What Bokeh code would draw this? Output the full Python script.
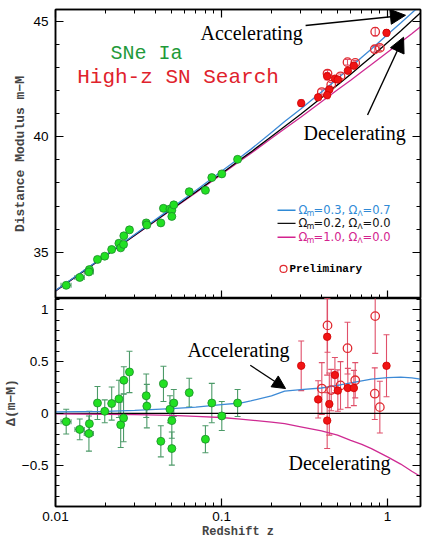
import numpy as np
from bokeh.plotting import figure
from bokeh.layouts import column
from bokeh.models import (ColumnDataSource, Whisker, TeeHead, Arrow, NormalHead, Label,
                          FixedTicker, LogAxis, LinearAxis, Range1d)
from bokeh.embed import file_html
from bokeh.resources import INLINE

# ---------------- data ----------------
# model curves
curve_z = [0.01, 0.02, 0.03, 0.05, 0.07, 0.1, 0.13, 0.15, 0.2, 0.24, 0.3, 0.4, 0.5, 0.6,
           0.7, 0.8, 1.0, 1.2, 1.4, 1.58]
black_mu = [33.33, 34.85, 35.74, 36.86, 37.61, 38.41, 39.01, 39.33, 40.01, 40.44, 40.97,
            41.68, 42.24, 42.70, 43.11, 43.46, 44.07, 44.57, 45.01, 45.36]
blue_mu = [33.35, 34.87, 35.77, 36.91, 37.67, 38.50, 39.11, 39.45, 40.18, 40.66, 41.20,
           41.93, 42.51, 43.00, 43.43, 43.79, 44.42, 44.92, 45.35, 45.69]
magenta_mu = [33.33, 34.84, 35.73, 36.84, 37.58, 38.37, 38.96, 39.27, 39.93, 40.34, 40.84,
              41.51, 42.03, 42.44, 42.81, 43.12, 43.65, 44.08, 44.45, 44.75]
blue_dmu = [0.015, 0.02, 0.028, 0.045, 0.06, 0.085, 0.10, 0.12, 0.17, 0.215, 0.23, 0.245,
            0.27, 0.295, 0.315, 0.33, 0.346, 0.35, 0.343, 0.33]
magenta_dmu = [-0.005, -0.01, -0.013, -0.02, -0.03, -0.04, -0.055, -0.065, -0.085, -0.10,
               -0.13, -0.17, -0.21, -0.26, -0.30, -0.34, -0.42, -0.49, -0.56, -0.61]
black_dmu = [0.0] * len(curve_z)

# low-z SNe Ia (green)
green_z = [0.0116, 0.0140, 0.0160, 0.0159, 0.0179, 0.0198, 0.0218, 0.0241, 0.0247, 0.0257,
           0.0258, 0.0279, 0.0352, 0.0355, 0.0431, 0.0447, 0.0489, 0.0502, 0.0502, 0.0516,
           0.0639, 0.0800, 0.0874, 0.1004, 0.125]
green_mu = [33.57, 33.91, 34.25, 34.15, 34.69, 34.83, 35.12, 35.39, 35.19, 35.34, 35.71,
            35.97, 36.27, 36.18, 36.27, 36.90, 36.87, 36.82, 36.55, 37.05, 37.62, 37.68,
            38.23, 38.39, 39.02]
green_dmu = [-0.08, -0.155, -0.10, -0.195, 0.10, 0.02, 0.095, 0.14, -0.11, -0.045, 0.32,
             0.40, 0.17, 0.07, -0.27, 0.285, 0.04, -0.07, -0.34, 0.10, 0.20, -0.25, 0.10,
             -0.025, 0.10]
green_err = [0.12, 0.10, 0.12, 0.17, 0.16, 0.11, 0.16, 0.18, 0.22, 0.23, 0.13, 0.20, 0.21,
             0.21, 0.15, 0.17, 0.13, 0.17, 0.16, 0.13, 0.14, 0.13, 0.19, 0.14, 0.13]
green_err_top = [0.10, 0.08, 0.08, 0.10, 0.08, 0.06, 0.06, 0.08, 0.10, 0.10, 0.10, 0.12, 0.12,
                 0.10, 0.08, 0.10, 0.08, 0.10, 0.10, 0.08, 0.08, 0.08, 0.10, 0.08, 0.08]
green_zerr = [0.0008, 0.0009, 0.0, 0.0010, 0.0, 0.0, 0.0, 0.0, 0.0, 0.0, 0.0, 0.0, 0.0, 0.0,
              0.0, 0.0, 0.0, 0.0, 0.0, 0.0, 0.0, 0.0, 0.0, 0.0, 0.0]

# High-z SN Search, filled (red)
rf_z = [0.302, 0.382, 0.433, 0.446, 0.433, 0.482, 0.502, 0.577, 0.627, 0.986]
rf_mu = [41.45, 41.70, 42.61, 42.04, 41.80, 42.51, 42.47, 42.85, 43.07, 44.49]
rf_dmu = [0.46, 0.135, 0.74, 0.09, -0.07, 0.37, 0.22, 0.245, 0.245, 0.46]
rf_err = [0.24, 0.18, 0.37, 0.30, 0.27, 0.17, 0.20, 0.19, 0.17, 0.30]
rf_err_top = [0.14, 0.10, 0.16, 0.14, 0.16, 0.10, 0.10, 0.10, 0.10, 0.14]

# High-z SN Search, preliminary (open)
ro_z = [0.402, 0.435, 0.458, 0.521, 0.574, 0.639, 0.843, 0.838, 0.899]
ro_mu = [41.93, 42.73, 42.25, 42.61, 43.22, 43.19, 44.54, 43.78, 43.84]
ro_dmu = [0.24, 0.85, 0.225, 0.27, 0.63, 0.32, 0.94, 0.19, 0.06]
ro_err = [0.25, 0.26, 0.20, 0.23, 0.25, 0.17, 0.36, 0.25, 0.25]
ro_err_top = [0.12, 0.14, 0.10, 0.10, 0.12, 0.10, 0.18, 0.12, 0.12]

x_ticks = [0.01, 0.1, 1.0]
x_tick_labels = ["0.01", "0.1", "1"]
top_y_ticks = [35, 40, 45]
bot_y_ticks = [-0.5, 0.0, 0.5, 1.0]
bot_y_tick_labels = ["\u22120.5", "0", "0.5", "1"]

legend_rows = [
    ("#2f8ad6", "0.3", "0.7"),
    ("#111111", "0.2", "0.0"),
    ("#d3228e", "1.0", "0.0"),
]

# ---------------- styling ----------------
BLUE = "#3d8ad6"
MAGENTA = "#cf2a92"
GREEN_FILL = "#22e022"
GREEN_LINE = "#1c8a2c"
GREEN_BAR = "#4c9a68"
RED_FILL = "#f01414"
RED_BAR = "#e0506a"
TICK_FONT = "Liberation Sans"
LAB_FONT = "Liberation Mono"

X_RANGE = Range1d(0.01, 1.58)
minor_x = [k * 10.0 ** e for e in (-2, -1, 0) for k in range(2, 10) if k * 10.0 ** e <= 1.58]


def style_axis(ax, ticker, show_labels=True):
    ax.ticker = ticker
    ax.major_tick_in = 8
    ax.major_tick_out = 0
    ax.minor_tick_in = 4
    ax.minor_tick_out = 0
    ax.axis_line_color = "black"
    ax.axis_line_width = 1.5
    ax.major_tick_line_width = 1.2
    if show_labels:
        ax.major_label_text_font = TICK_FONT
        ax.major_label_text_font_size = "13.5px"
        ax.major_label_text_color = "black"
    else:
        ax.major_label_text_font_size = "1px"
        ax.major_label_text_alpha = 0.0
        ax.major_label_standoff = 0


def make_fig(height, y_range, top_b, bot_b):
    f = figure(width=423, height=height, x_axis_type="log", x_range=X_RANGE, y_range=y_range,
               output_backend="svg", toolbar_location=None,
               min_border_left=54, min_border_right=3, min_border_top=top_b,
               min_border_bottom=bot_b, outline_line_color="black", outline_line_width=1.5,
               background_fill_color="white", border_fill_color="white")
    f.grid.visible = False
    return f


# ---------------- top panel ----------------
top = make_fig(298, Range1d(33.0, 45.5), 9, 0)
style_axis(top.xaxis[0], FixedTicker(ticks=x_ticks, minor_ticks=minor_x), show_labels=False)
style_axis(top.yaxis[0], FixedTicker(ticks=top_y_ticks, minor_ticks=list(range(33, 46))))
top.yaxis[0].major_label_standoff = 7
top.yaxis[0].axis_label = "Distance Modulus m\u2212M"
top.yaxis[0].axis_label_text_font = LAB_FONT
top.yaxis[0].axis_label_text_font_style = "bold"
top.yaxis[0].axis_label_text_font_size = "13px"
top.yaxis[0].axis_label_standoff = 2

ax_t = LogAxis()
style_axis(ax_t, FixedTicker(ticks=x_ticks, minor_ticks=minor_x), show_labels=False)
top.add_layout(ax_t, "above")
ax_r = LinearAxis()
style_axis(ax_r, FixedTicker(ticks=top_y_ticks, minor_ticks=list(range(33, 46))), show_labels=False)
top.add_layout(ax_r, "right")

top.line(curve_z, magenta_mu, line_color=MAGENTA, line_width=1.3)
top.line(curve_z, black_mu, line_color="black", line_width=1.3)
top.line(curve_z, blue_mu, line_color=BLUE, line_width=1.3)

g_top = ColumnDataSource(dict(z=green_z, mu=green_mu,
                              lo=[m - e for m, e in zip(green_mu, green_err_top)],
                              hi=[m + e for m, e in zip(green_mu, green_err_top)]))
top.add_layout(Whisker(source=g_top, base="z", lower="lo", upper="hi", line_color=GREEN_BAR,
                       line_width=1.1,
                       lower_head=TeeHead(size=5, line_color=GREEN_BAR, line_width=1.1),
                       upper_head=TeeHead(size=5, line_color=GREEN_BAR, line_width=1.1)))
gx = [(z, m, e) for z, m, e in zip(green_z, green_mu, green_zerr) if e > 0]
gx_top = ColumnDataSource(dict(mu=[t[1] for t in gx], zl=[t[0] - t[2] for t in gx],
                               zh=[t[0] + t[2] for t in gx]))
top.add_layout(Whisker(source=gx_top, base="mu", lower="zl", upper="zh", dimension="width",
                       line_color=GREEN_BAR, line_width=1.1,
                       lower_head=TeeHead(size=5, line_color=GREEN_BAR, line_width=1.1),
                       upper_head=TeeHead(size=5, line_color=GREEN_BAR, line_width=1.1)))

r_top = ColumnDataSource(dict(z=rf_z + ro_z, lo=[m - e for m, e in zip(rf_mu + ro_mu, rf_err_top + ro_err_top)],
                              hi=[m + e for m, e in zip(rf_mu + ro_mu, rf_err_top + ro_err_top)]))
top.add_layout(Whisker(source=r_top, base="z", lower="lo", upper="hi", line_color=RED_BAR,
                       line_width=1.1,
                       lower_head=TeeHead(size=5, line_color=RED_BAR, line_width=1.1),
                       upper_head=TeeHead(size=5, line_color=RED_BAR, line_width=1.1)))

top.scatter(green_z, green_mu, size=8, fill_color=GREEN_FILL, line_color=GREEN_LINE, line_width=0.8)
top.scatter(ro_z, ro_mu, size=8.5, fill_color="white", fill_alpha=0.0, line_color="#e02a30", line_width=1.3)
top.scatter(rf_z, rf_mu, size=7.5, fill_color=RED_FILL, line_color="#d00000", line_width=0.8)

top.add_layout(Label(x=0.0353, y=43.61, text="SNe Ia", text_font=LAB_FONT, text_font_size="20px",
                     text_color="#1f9a3a", text_align="center", text_baseline="middle"))
top.add_layout(Label(x=0.0547, y=42.57, text="High-z SN Search", text_font=LAB_FONT,
                     text_font_size="21px", text_color="#e0222c", text_align="center",
                     text_baseline="middle"))
top.add_layout(Label(x=0.1517, y=44.47, text="Accelerating", text_font="Liberation Serif",
                     text_font_size="20px", text_color="black", text_align="center",
                     text_baseline="middle"))
top.add_layout(Label(x=0.633, y=40.16, text="Decelerating", text_font="Liberation Serif",
                     text_font_size="20px", text_color="black", text_align="center",
                     text_baseline="middle"))
top.add_layout(Arrow(x_start=0.321, y_start=44.81, x_end=1.283, y_end=45.25, line_width=1.4,
                     line_color="black",
                     end=NormalHead(size=15, fill_color="black", line_color="black")))
top.add_layout(Arrow(x_start=0.758, y_start=40.94, x_end=1.249, y_end=44.30, line_width=1.4,
                     line_color="black",
                     end=NormalHead(size=15, fill_color="black", line_color="black")))

# legend (drawn by hand for the sub-scripted Omegas)
leg_z0, leg_z1 = 0.2175, 0.2792
leg_text_z = 0.2911
leg_y = [36.82, 36.25, 35.65]
for (col, om, ol), yy in zip(legend_rows, leg_y):
    top.line([leg_z0, leg_z1], [yy, yy], line_color=col, line_width=1.4)
    pieces = [("\u03a9", 0, 0, "11.5px"), ("m", 8, -3, "8px"), ("=" + om + ",", 15, 0, "11.5px"),
              ("\u03a9", 50, 0, "11.5px"), ("\u039b", 59, -3, "7.5px"), ("=" + ol, 64, 0, "11.5px")]
    for txt, dx, dy, fs in pieces:
        top.add_layout(Label(x=leg_text_z, y=yy, x_offset=dx, y_offset=dy, text=txt,
                             text_font="DejaVu Sans", text_font_size=fs, text_color=col,
                             text_align="left", text_baseline="middle"))
prelim_z, prelim_y = 0.2363, 34.28
top.scatter([prelim_z], [prelim_y], size=7, fill_alpha=0.0, line_color="#e02a30", line_width=1.2)
top.add_layout(Label(x=prelim_z, y=prelim_y, x_offset=6, text="Preliminary", text_font=LAB_FONT,
                     text_font_style="bold", text_font_size="11px", text_color="black",
                     text_align="left", text_baseline="middle"))

# ---------------- bottom panel ----------------
bot = make_fig(243, Range1d(-0.9, 1.11), 0, 34)
style_axis(bot.xaxis[0], FixedTicker(ticks=x_ticks, minor_ticks=minor_x))
bot.xaxis[0].major_label_overrides = {t: s for t, s in zip(x_ticks, x_tick_labels)}
bot.xaxis[0].major_label_standoff = 5
bot.xaxis[0].axis_label = "Redshift z"
bot.xaxis[0].axis_label_text_font = LAB_FONT
bot.xaxis[0].axis_label_text_font_style = "bold"
bot.xaxis[0].axis_label_text_font_size = "12px"
bot.xaxis[0].axis_label_standoff = 1
minor_b = [round(v, 1) for v in np.arange(-0.9, 1.11, 0.1)]
style_axis(bot.yaxis[0], FixedTicker(ticks=bot_y_ticks, minor_ticks=minor_b))
bot.yaxis[0].major_label_overrides = {t: s for t, s in zip(bot_y_ticks, bot_y_tick_labels)}
bot.yaxis[0].major_label_standoff = 7
bot.yaxis[0].axis_label = "\u0394(m\u2212M)"
bot.yaxis[0].axis_label_text_font = LAB_FONT
bot.yaxis[0].axis_label_text_font_style = "bold"
bot.yaxis[0].axis_label_text_font_size = "13px"
bot.yaxis[0].axis_label_standoff = 0
ax_r2 = LinearAxis()
style_axis(ax_r2, FixedTicker(ticks=bot_y_ticks, minor_ticks=minor_b), show_labels=False)
bot.add_layout(ax_r2, "right")

bot.line(curve_z, black_dmu, line_color="black", line_width=1.4)
bot.line(curve_z, magenta_dmu, line_color=MAGENTA, line_width=1.3)
bot.line(curve_z, blue_dmu, line_color=BLUE, line_width=1.3)

g_bot = ColumnDataSource(dict(z=green_z, lo=[d - e for d, e in zip(green_dmu, green_err)],
                              hi=[d + e for d, e in zip(green_dmu, green_err)]))
bot.add_layout(Whisker(source=g_bot, base="z", lower="lo", upper="hi", line_color=GREEN_BAR,
                       line_width=1.1,
                       lower_head=TeeHead(size=6, line_color=GREEN_BAR, line_width=1.1),
                       upper_head=TeeHead(size=6, line_color=GREEN_BAR, line_width=1.1)))
gx_bot = ColumnDataSource(dict(d=[green_dmu[i] for i, e in enumerate(green_zerr) if e > 0],
                               zl=[t[0] - t[2] for t in gx], zh=[t[0] + t[2] for t in gx]))
bot.add_layout(Whisker(source=gx_bot, base="d", lower="zl", upper="zh", dimension="width",
                       line_color=GREEN_BAR, line_width=1.1,
                       lower_head=TeeHead(size=5, line_color=GREEN_BAR, line_width=1.1),
                       upper_head=TeeHead(size=5, line_color=GREEN_BAR, line_width=1.1)))
r_bot = ColumnDataSource(dict(z=rf_z + ro_z,
                              lo=[d - e for d, e in zip(rf_dmu + ro_dmu, rf_err + ro_err)],
                              hi=[d + e for d, e in zip(rf_dmu + ro_dmu, rf_err + ro_err)]))
bot.add_layout(Whisker(source=r_bot, base="z", lower="lo", upper="hi", line_color=RED_BAR,
                       line_width=1.1,
                       lower_head=TeeHead(size=6, line_color=RED_BAR, line_width=1.1),
                       upper_head=TeeHead(size=6, line_color=RED_BAR, line_width=1.1)))

bot.scatter(green_z, green_dmu, size=8, fill_color=GREEN_FILL, line_color=GREEN_LINE, line_width=0.8)
bot.scatter(ro_z, ro_dmu, size=8.5, fill_color="white", fill_alpha=0.0, line_color="#e02a30", line_width=1.3)
bot.scatter(rf_z, rf_dmu, size=7.5, fill_color=RED_FILL, line_color="#d00000", line_width=0.8)

bot.add_layout(Label(x=0.1265, y=0.609, text="Accelerating", text_font="Liberation Serif",
                     text_font_size="20px", text_color="black", text_align="center",
                     text_baseline="middle"))
bot.add_layout(Label(x=0.514, y=-0.478, text="Decelerating", text_font="Liberation Serif",
                     text_font_size="20px", text_color="black", text_align="center",
                     text_baseline="middle"))
bot.add_layout(Arrow(x_start=0.149, y_start=0.465, x_end=0.243, y_end=0.240, line_width=1.3,
                     line_color="black",
                     end=NormalHead(size=13, fill_color="black", line_color="black")))

layout = column(top, bot, spacing=0)
open("out.html", "w").write(file_html(layout, INLINE))
